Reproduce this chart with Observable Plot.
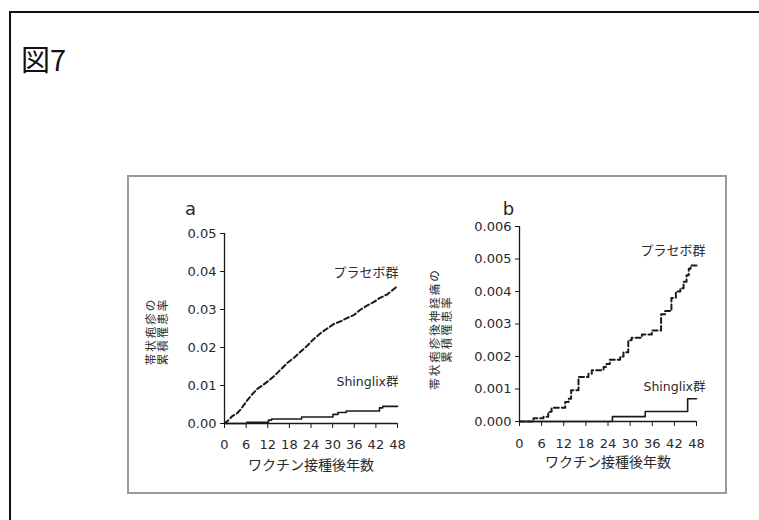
<!DOCTYPE html>
<html>
<head>
<meta charset="utf-8">
<script src="https://cdn.jsdelivr.net/npm/d3@7"></script>
<script src="https://cdn.jsdelivr.net/npm/@observablehq/plot@0.6"></script>
<style>
  html, body { margin: 0; padding: 0; background: #fff; }
  #page { position: relative; width: 759px; height: 520px; overflow: hidden; background: #fff;
          font-family: "DejaVu Sans", "Noto Sans CJK JP", sans-serif; }
  #outer { position: absolute; left: 9px; top: 11px; width: 900px; height: 700px;
           border-top: 2px solid #111; border-left: 2px solid #111; }
  #title { position: absolute; left: 21px; top: 41px; font-family: "Noto Sans CJK JP", sans-serif;
           font-size: 29px; font-weight: 400; line-height: 34px; color: #111; }
  #box { position: absolute; left: 127px; top: 175px; width: 596px; height: 315px;
         border: 2px solid #9a9a9a; }
  .panel { position: absolute; top: 178px; }
  #panelA { left: 130px; }
  #panelB { left: 420px; }
  g[aria-description="ytitle"] { opacity: 0.98; }
  g[aria-description="ytitle"] text { letter-spacing: 2px; }
</style>
</head>
<body>
<div id="page">
  <div id="outer"></div>
  <div id="title">図7</div>
  <div id="box"></div>
  <div id="panelA" class="panel"></div>
  <div id="panelB" class="panel"></div>
</div>
<script>
// ---- data (months after vaccination, cumulative incidence) ----
const xTicks = [0, 6, 12, 18, 24, 30, 36, 42, 48];
const yTicksA = [0, 0.01, 0.02, 0.03, 0.04, 0.05];
const yTicksB = [0, 0.001, 0.002, 0.003, 0.004, 0.005, 0.006];

const groupPlacebo = "プラセボ群";
const groupShingrix = "Shinglix群";
const xTitle = "ワクチン接種後年数";
const yTitleA = ["帯状疱疹の", "累積罹患率"];
const yTitleB = ["帯状疱疹後神経痛の", "累積罹患率"];
const panelNames = ["a", "b"];

// panel a: herpes zoster
const placeboA = [
  [0, 0], [1, 0.0008], [2.1, 0.0019], [3.5, 0.0027], [4.5, 0.0037], [6.3, 0.0061],
  [7.5, 0.0075], [9.1, 0.0091], [10.5, 0.0100], [12.3, 0.0113], [14, 0.0127],
  [15.6, 0.0142], [17.5, 0.0160], [19.3, 0.0173], [21, 0.0188], [23, 0.0205],
  [24.5, 0.0220], [26.7, 0.0238], [28.5, 0.0250], [30.4, 0.0262], [32, 0.0268],
  [34.1, 0.0278], [36, 0.0286], [37.5, 0.0298], [39.5, 0.0310], [41.5, 0.0320],
  [43, 0.0330], [45.2, 0.0340], [46.5, 0.0350], [48, 0.0362]
];
const shingrixA = [
  [0, 0], [6.2, 0.0003], [12.2, 0.0009], [13.1, 0.0012], [21.4, 0.0017],
  [30.1, 0.0024], [31.5, 0.0029], [33.8, 0.0033], [43, 0.0041], [43.9, 0.0045], [48, 0.0045]
];

// panel b: postherpetic neuralgia
const placeboB = [
  [0, 0], [3.8, 0.0001], [6.5, 0.00015], [7.8, 0.0003], [8.7, 0.00042], [12.4, 0.0006],
  [13.3, 0.0007], [14, 0.00096], [16, 0.00137], [18.7, 0.00147], [19.6, 0.00158],
  [22.8, 0.00168], [23.6, 0.00177], [24.5, 0.0019], [27.3, 0.002], [28.2, 0.00213],
  [29.5, 0.0025], [30.4, 0.00258], [33.2, 0.00268], [35.9, 0.0028], [38.4, 0.0033],
  [39.5, 0.0034], [41.2, 0.0038], [42.4, 0.004], [43.6, 0.0041], [44.5, 0.0043],
  [45.3, 0.0045], [45.9, 0.0047], [46.4, 0.0048], [48, 0.0048]
];
const shingrixB = [
  [0, 0], [25.2, 0.00015], [34.1, 0.00031], [45.6, 0.0007], [48, 0.0007]
];

const ink = "#1a1a1a";
const textInk = "#2a2a2a";
const cjk = '"Noto Sans CJK JP", sans-serif';

function yTitleMark(line, dx, dy) {
  return Plot.text([line], {
    text: d => d, frameAnchor: "left", textAnchor: "middle", rotate: -90,
    dx, dy, fontSize: 11.5, fill: textInk, fontFamily: cjk, ariaDescription: "ytitle"
  });
}

function panel(cfg) {
  return Plot.plot({
    width: cfg.width,
    height: 302,
    marginLeft: cfg.ml,
    marginRight: cfg.mr,
    marginTop: cfg.mt,
    marginBottom: cfg.mb,
    style: { fontFamily: '"DejaVu Sans", "Noto Sans CJK JP", sans-serif', fontSize: "13px", color: textInk, background: "transparent", overflow: "visible" },
    x: { domain: [0, 48], label: null },
    y: { domain: cfg.yDomain, label: null },
    marks: [
      Plot.axisX({ ticks: xTicks, tickSize: 5, tickPadding: cfg.xPad, label: null, fontSize: 13, stroke: ink, fill: textInk }),
      Plot.axisY({ ticks: cfg.yTicks, tickFormat: d3.format(cfg.fmt), tickSize: 4, tickPadding: 4, label: null, fontSize: 13, stroke: ink, fill: textInk }),
      Plot.ruleX([0], { stroke: ink, strokeWidth: 1.3 }),
      Plot.ruleY([0], { stroke: ink, strokeWidth: 1.3 }),
      Plot.line(cfg.shingrix, { x: d => d[0], y: d => d[1], curve: "step-after", stroke: ink, strokeWidth: 1.6 }),
      Plot.line(cfg.placebo, { x: d => d[0], y: d => d[1], curve: cfg.placeboCurve, stroke: ink, strokeWidth: 2, strokeDasharray: "5,3" }),
      Plot.text([cfg.placebo[cfg.placebo.length - 1]], { x: d => d[0], y: d => d[1], text: () => groupPlacebo, textAnchor: "end", dx: cfg.labDx, dy: cfg.pDy, fontSize: 13, fill: textInk, fontFamily: cjk }),
      Plot.text([cfg.shingrix[cfg.shingrix.length - 1]], { x: d => d[0], y: d => d[1], text: () => groupShingrix, textAnchor: "end", dx: cfg.labDx, dy: cfg.sDy, fontSize: 12.5, fill: textInk }),
      Plot.text([xTitle], { text: d => d, frameAnchor: "bottom", textAnchor: "middle", dy: cfg.xtDy, fontSize: 14, fill: textInk, fontFamily: cjk }),
      yTitleMark(cfg.yTitle[0], cfg.ytDx - 6, cfg.ytDy),
      yTitleMark(cfg.yTitle[1], cfg.ytDx + 6, cfg.ytDy),
      Plot.text([cfg.name], { text: d => d, frameAnchor: "top-left", dx: cfg.nDx, dy: cfg.nDy, fontSize: 18, fill: textInk, textAnchor: "middle" })
    ]
  });
}

document.getElementById("panelA").appendChild(panel({
  width: 280, ml: 94, mr: 13, mt: 55, mb: 57,
  yDomain: [0, 0.05], yTicks: yTicksA, fmt: ".2f", xPad: 11,
  placebo: placeboA, shingrix: shingrixA, placeboCurve: "linear",
  labDx: 1, pDy: -13, sDy: -24,
  xtDy: 46, yTitle: yTitleA, ytDx: -67, ytDy: 3,
  name: panelNames[0], nDx: -34, nDy: -31
}));

document.getElementById("panelB").appendChild(panel({
  width: 300, ml: 99, mr: 24, mt: 48, mb: 59,
  yDomain: [0, 0.006], yTicks: yTicksB, fmt: ".3f", xPad: 12,
  placebo: placeboB, shingrix: shingrixB, placeboCurve: "step-after",
  labDx: 9, pDy: -15, sDy: -12,
  xtDy: 45, yTitle: yTitleB, ytDx: -78.5, ytDy: 5,
  name: panelNames[1], nDx: -11, nDy: -24
}));
</script>
</body>
</html>
